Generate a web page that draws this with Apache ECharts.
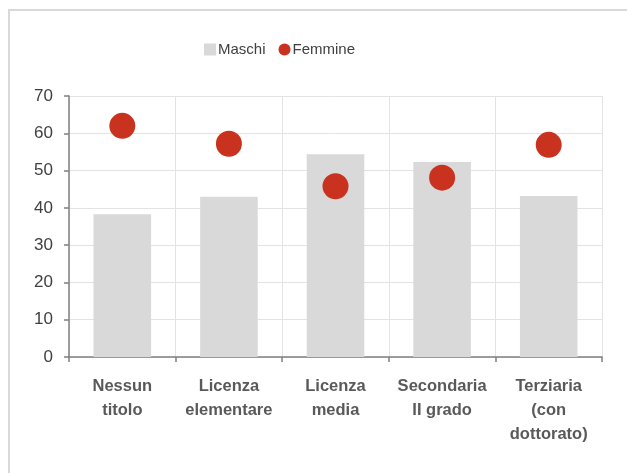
<!DOCTYPE html>
<html>
	<head>
		<meta charset="UTF-8">
		<title>Maschi e Femmine</title>
		<style type="text/css">
			html,body{
				margin: 0;
				padding: 0;
				width: 100%;
				height: 100%;
				background: #fff;
			}
			#frame{
				position: absolute;
				left: 8px;
				top: 9px;
				width: 640px;
				height: 470px;
				border: 2px solid #d9d9d9;
			}
			#main{
				position: absolute;
				left: 0;
				top: 0;
				width: 627px;
				height: 473px;
			}
		</style>
	</head>
	<body>
		<div id="frame"></div>
		<div id="main"></div>
		<script src="https://cdn.jsdelivr.net/npm/echarts@6/dist/echarts.min.js"></script>
		<script>
			var categories = ['Nessun\ntitolo', 'Licenza\nelementare', 'Licenza\nmedia', 'Secondaria\nII grado', 'Terziaria\n(con\ndottorato)'];
			var maschi = [38.3, 43.0, 54.4, 52.3, 43.2];
			var femmine = [62.0, 57.2, 45.8, 48.1, 56.9];
			var yTicks = [0, 10, 20, 30, 40, 50, 60, 70];

			var font = "'Liberation Sans', Arial, sans-serif";
			var myChart = echarts.init(document.getElementById('main'));
			myChart.setOption({
				animation: false,
				textStyle: { fontFamily: font },
				legend: {
					top: 37,
					left: 199,
					itemGap: 13,
					itemWidth: 12,
					itemHeight: 12,
					textStyle: { fontSize: 15, color: '#404040', fontFamily: font, padding: [0, 0, 0, -3] },
					data: [
						{ name: 'Maschi', icon: 'rect' },
						{ name: 'Femmine', icon: 'circle' }
					]
				},
				grid: {
					left: 69,
					right: 25,
					top: 96,
					bottom: 116
				},
				xAxis: {
					type: 'category',
					data: categories,
					axisLine: { lineStyle: { color: '#808080', width: 1.5 } },
					axisTick: { show: true, interval: 0, length: 5, lineStyle: { color: '#808080', width: 1.5 } },
					splitLine: { show: true, interval: 0, lineStyle: { color: '#e3e3e3', width: 1 } },
					axisLabel: {
						interval: 0,
						color: '#595959',
						fontSize: 16.5,
						fontWeight: 'bold',
						fontFamily: font,
						lineHeight: 24,
						margin: 17
					}
				},
				yAxis: {
					type: 'value',
					min: yTicks[0],
					max: yTicks[yTicks.length - 1],
					interval: 10,
					axisLine: { show: true, lineStyle: { color: '#808080', width: 1.5 } },
					axisTick: { show: true, length: 5, lineStyle: { color: '#808080', width: 1.5 } },
					splitLine: { show: true, lineStyle: { color: '#e3e3e3', width: 1 } },
					axisLabel: {
						color: '#404040',
						fontSize: 17,
						fontFamily: font,
						margin: 16
					}
				},
				series: [
					{
						name: 'Maschi',
						type: 'bar',
						data: maschi,
						barWidth: '54%',
						itemStyle: { color: '#d9d9d9' }
					},
					{
						name: 'Femmine',
						type: 'scatter',
						data: femmine,
						symbolSize: 26,
						itemStyle: { color: '#c8321e', opacity: 1 }
					}
				]
			});
		</script>
	</body>
</html>
